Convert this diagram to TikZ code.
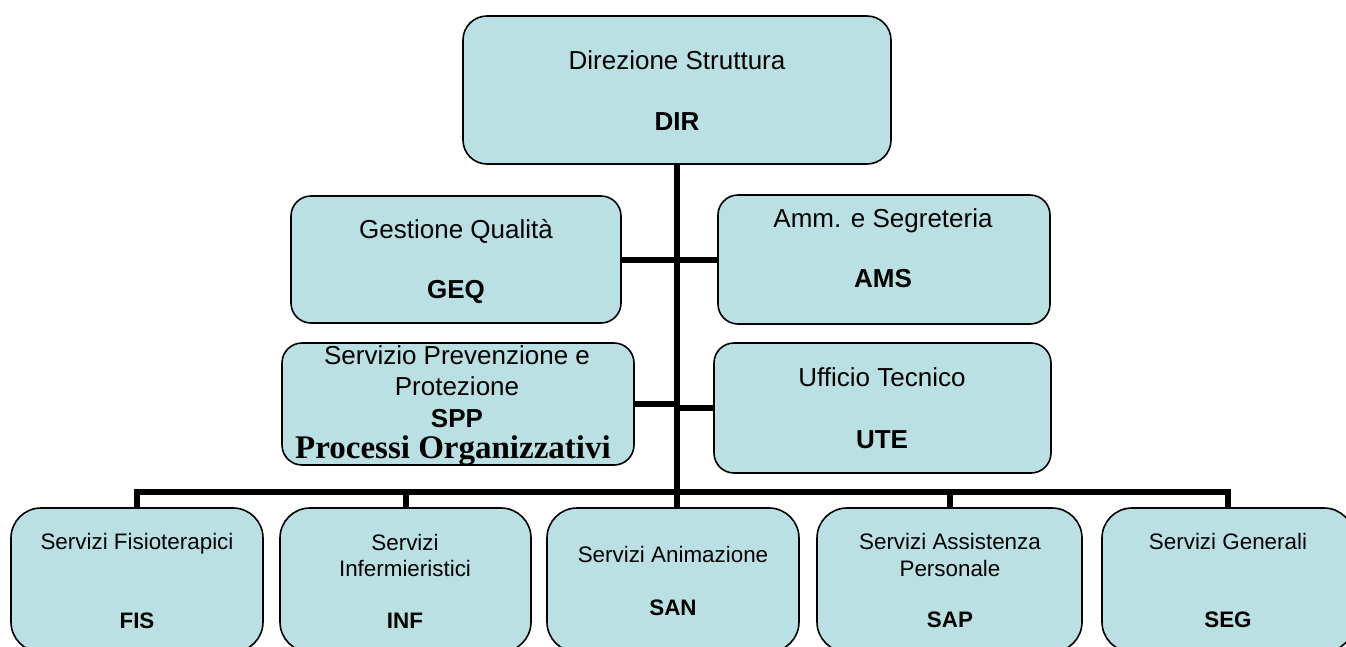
\documentclass[tikz,border=0pt]{standalone}
\usepackage{fontspec}
\newfontfamily\arialf{Liberation Sans}
\newfontfamily\timesf{Liberation Serif}
\definecolor{boxfill}{RGB}{187,224,227}
\begin{document}
\begin{tikzpicture}[x=1pt,y=-1pt,
  box/.style={draw=black, line width=1.6pt, fill=boxfill, rounded corners=#1, inner sep=0pt, shape=rectangle},
  box/.default=20pt,
  conn/.style={draw=black, line width=6pt, line join=miter},
  tbig/.style={font=\arialf\fontsize{26}{30}\selectfont, anchor=base, inner sep=0pt},
  bbig/.style={font=\arialf\bfseries\fontsize{26}{30}\selectfont, anchor=base, inner sep=0pt},
  tsmall/.style={font=\arialf\fontsize{22.4}{26}\selectfont, anchor=base, inner sep=0pt},
  bsmall/.style={font=\arialf\bfseries\fontsize{22.4}{26}\selectfont, anchor=base, inner sep=0pt},
  tser/.style={font=\timesf\bfseries\fontsize{33}{36}\selectfont, anchor=base, inner sep=0pt}
]
\useasboundingbox (0,0) rectangle (1346,646);
\fill[white] (0,0) rectangle (1346,646);

% boxes
\node[box=24pt, minimum width=428pt, minimum height=148pt] (dir) at (677,90) {};
\node[box, minimum width=330pt, minimum height=127pt] (geq) at (456,259.5) {};
\node[box, minimum width=332pt, minimum height=129pt] (ams) at (884,259.5) {};
\node[box, minimum width=352pt, minimum height=122pt] (spp) at (458,404) {};
\node[box, minimum width=337pt, minimum height=130pt] (ute) at (882.5,408) {};
\node[box=30pt, minimum width=252pt, minimum height=144pt] (fis) at (137,580) {};
\node[box=30pt, minimum width=251pt, minimum height=144pt] (inf) at (405.5,580) {};
\node[box=30pt, minimum width=252pt, minimum height=144pt] (san) at (673,580) {};
\node[box=30pt, minimum width=265pt, minimum height=144pt] (sap) at (949.5,580) {};
\node[box=30pt, minimum width=252pt, minimum height=144pt] (seg) at (1228,580) {};

% connectors
\coordinate (bus) at (677,492);
\draw[conn] (dir.south) -- (dir.south |- san.north);
\draw[conn] (geq.east) -- (geq.east -| dir.south);
\draw[conn] (ams.west) -- (ams.west -| dir.south);
\draw[conn] (spp.east) -- (spp.east -| dir.south);
\draw[conn] (ute.west) -- (ute.west -| dir.south);
\draw[conn] (fis.north) -- (fis.north |- bus) -- (seg.north |- bus) -- (seg.north);
\draw[conn] (inf.north) -- (inf.north |- bus);
\draw[conn] (sap.north) -- (sap.north |- bus);

% texts
\node[tbig] (dirA) at (677,69) {Direzione Struttura};
\node[bbig] (dirB) at (677,130) {DIR};
\node[tbig] (geqA) at (456,238) {Gestione Qualità};
\node[bbig] (geqB) at (456,298) {GEQ};
\node[tbig] (amsA) at (883,227) {Amm. e Segreteria};
\node[bbig] (amsB) at (883,287) {AMS};
\node[tbig] (sppA) at (457,364) {Servizio Prevenzione e};
\node[tbig] (sppB) at (457,395) {Protezione};
\node[bbig] (sppC) at (457,427) {SPP};
\node[tser] (sppD) at (453,458) {Processi Organizzativi};
\node[tbig] (uteA) at (882,386) {Ufficio Tecnico};
\node[bbig] (uteB) at (882,448) {UTE};
\node[tsmall] (fisA) at (137,549) {Servizi Fisioterapici};
\node[bsmall] (fisB) at (137,628) {FIS};
\node[tsmall] (infA) at (405,550) {Servizi};
\node[tsmall] (infB) at (405,576) {Infermieristici};
\node[bsmall] (infC) at (405,628) {INF};
\node[tsmall] (sanA) at (673,562) {Servizi Animazione};
\node[bsmall] (sanB) at (673,615) {SAN};
\node[tsmall] (sapA) at (950,549) {Servizi Assistenza};
\node[tsmall] (sapB) at (950,576) {Personale};
\node[bsmall] (sapC) at (950,627) {SAP};
\node[tsmall] (segA) at (1228,549) {Servizi Generali};
\node[bsmall] (segB) at (1228,627) {SEG};
\end{tikzpicture}
\end{document}
